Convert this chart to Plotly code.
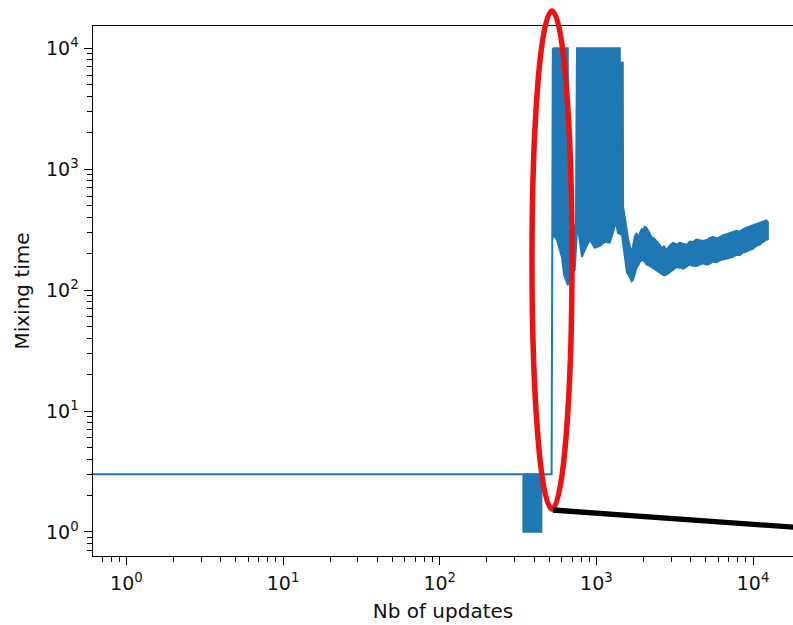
import plotly.graph_objects as go

# ---- data ----
# thin step part of the curve (starts at the left edge, x -> 0)
step_x = [0.5, 518, 519, 522, 527]
step_y = [3, 3, 7.4, 270, 10000]

# dense oscillation between 1 and 3
osc_low_x = [341, 447, 447, 341, 341]
osc_low_y = [3, 3, 1, 1, 3]

# envelope of the dense noisy part (upper, left -> right)
upper_x = [527, 658, 660, 740, 745, 751, 1413, 1414, 1476, 1483, 1520, 1560, 1600, 1640,
           1679, 1720, 1760, 1806, 1850, 1900, 1950, 1990, 2040, 2093, 2170, 2251, 2330,
           2422, 2510, 2607, 2700, 2806, 2950, 3093, 3250, 3409, 3580, 3763, 3950, 4132,
           4350, 4583, 4800, 5078, 5300, 5571, 5850, 6148, 6450, 6780, 7100, 7443, 7850,
           8247, 8600, 9010, 9500, 10027, 10500, 11070, 11500, 11920, 12200, 12450]
upper_y = [10000, 10000, 300, 350, 2100, 10000, 10000, 7600, 7600, 488, 400, 315, 260, 230,
           201, 240, 280, 297, 270, 300, 320, 315, 335, 327, 300, 275, 268,
           254, 240, 223, 230, 215, 235, 246, 238, 246, 240, 237, 252, 250,
           262, 260, 255, 260, 270, 275, 268, 275, 285, 290, 295, 300, 310,
           305, 318, 327, 335, 346, 352, 360, 370, 372, 378, 366]
# lower envelope (right -> left)
lower_x = [12450, 12200, 11920, 11500, 11070, 10500, 9980, 9500, 9010, 8600, 8247, 7850,
           7443, 7100, 6780, 6450, 6148, 5850, 5571, 5300, 5078, 4800, 4583, 4350, 4132,
           3950, 3763, 3580, 3409, 3250, 3093, 2950, 2806, 2700, 2607, 2510, 2422, 2330,
           2251, 2170, 2093, 2040, 1990, 1940, 1897, 1850, 1806, 1760, 1711, 1680, 1636,
           1600, 1566, 1455, 1371, 1331, 1274, 1219, 1132, 1052, 977, 908, 857,
           808, 770, 751, 729, 678, 658, 640, 621, 603, 585, 560, 535, 527]
lower_y = [260, 265, 255, 250, 237, 232, 219, 215, 207, 204, 195, 196,
           188, 185, 182, 178, 176, 170, 172, 165, 162, 166, 162, 158, 159,
           162, 156, 150, 153, 155, 147, 140, 134, 132, 136, 142, 147, 150,
           156, 160, 162, 170, 178, 175, 172, 160, 153, 135, 121, 118, 128,
           135, 139, 285, 297, 366, 297, 246, 250, 232, 223, 260, 223,
           188, 297, 300, 147, 125, 110, 121, 134, 185, 215, 260, 285, 270]

tick_vals = [1, 10, 100, 1000, 10000]
tick_text = ["10<sup>0</sup>", "10<sup>1</sup>", "10<sup>2</sup>", "10<sup>3</sup>", "10<sup>4</sup>"]

BLUE = "#1f77b4"
FONT = "DejaVu Sans"

minor_vals = [m * 10 ** e for e in range(-1, 5) for m in range(2, 10)]

fig = go.Figure()
fig.add_trace(go.Scatter(x=osc_low_x, y=osc_low_y, mode="lines", fill="toself",
                         fillcolor=BLUE, line=dict(color=BLUE, width=1.5), hoverinfo="skip"))
fig.add_trace(go.Scatter(x=upper_x + lower_x, y=upper_y + lower_y, mode="lines", fill="toself",
                         fillcolor=BLUE, line=dict(color=BLUE, width=1.8), hoverinfo="skip"))
fig.add_trace(go.Scatter(x=step_x, y=step_y, mode="lines",
                         line=dict(color=BLUE, width=2)))

axis_common = dict(
    type="log", showline=True, linecolor="black", linewidth=1.2,
    ticks="outside", ticklen=7.5, tickwidth=1.2, tickcolor="black",
    tickmode="array", tickvals=tick_vals, ticktext=tick_text,
    tickfont=dict(family=FONT, size=19, color="#111111"),
    minor=dict(ticks="outside", ticklen=4.5, tickwidth=1, tickcolor="black",
               tickmode="array", tickvals=minor_vals, showgrid=False),
    showgrid=False, zeroline=False,
)

fig.update_layout(
    width=793, height=625,
    margin=dict(l=93, r=0, t=26, b=69),
    plot_bgcolor="white", paper_bgcolor="white",
    showlegend=False,
    xaxis=dict(axis_common, range=[-0.213, 4.255], mirror=True, ticklabelstandoff=3,
               title=dict(text="Nb of updates", standoff=10,
                          font=dict(family=FONT, size=20, color="#111111"))),
    yaxis=dict(axis_common, range=[-0.199, 4.184], ticklabelstandoff=2,
               title=dict(text="Mixing time", standoff=10,
                          font=dict(family=FONT, size=20, color="#111111"))),
    shapes=[
        dict(type="circle", xref="paper", yref="paper",
             x0=0.6271, x1=0.6843, y0=0.0887, y1=1.0283,
             line=dict(color="#ee1111", width=5.5), layer="above"),
        dict(type="line", xref="paper", yref="paper",
             x0=0.657, y0=0.0868, x1=1.02, y1=0.0525,
             line=dict(color="black", width=5.3), layer="above"),
    ],
)

fig.write_html("out.html")
